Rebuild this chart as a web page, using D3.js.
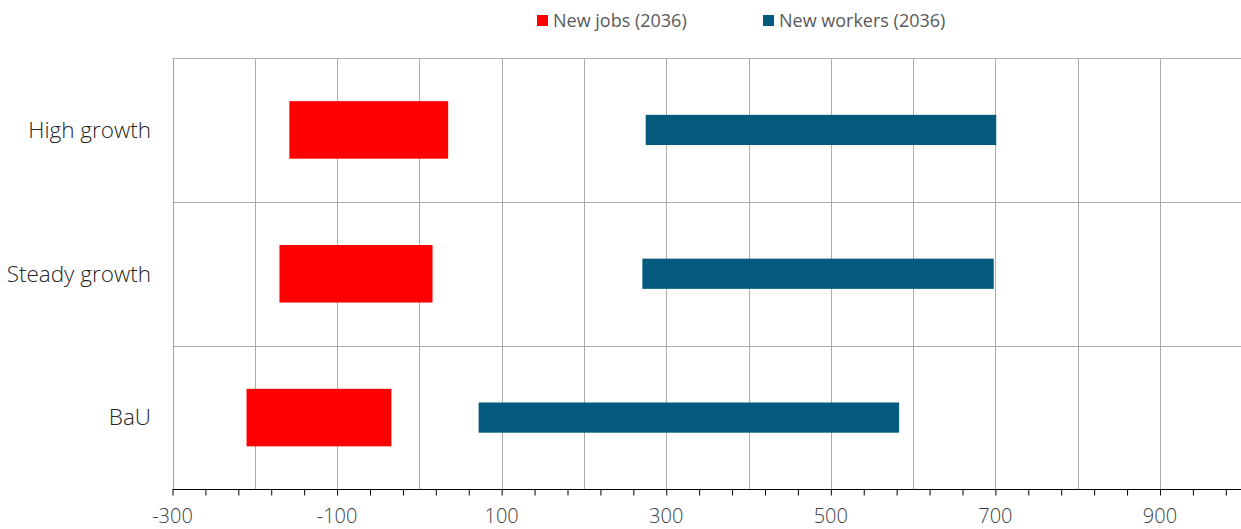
<!DOCTYPE html>
<html>
<head>
<meta charset="utf-8">
<script src="https://cdn.jsdelivr.net/npm/d3@7"></script>
<style>
  html, body { margin: 0; padding: 0; background: #fff; }
  svg { display: block; }
</style>
</head>
<body>
<svg id="chart" width="1241" height="529"></svg>
<script>
const categories = ["High growth", "Steady growth", "BaU"];
const jobsStart = [-158, -170, -210];
const jobsEnd = [35, 16, -34];
const workersStart = [275, 271, 72];
const workersEnd = [701, 698, 583];
const seriesNames = ["New jobs (2036)", "New workers (2036)"];
const tickValues = [-300, -100, 100, 300, 500, 700, 900];

(function () {
const svg = d3.select("#chart");
const W = 1241;
const plotLeft = 172.5, plotTop = 58, plotBottom = 489.5;
const font = "'Open Sans', 'Segoe UI', sans-serif";

const x = d3.scaleLinear().domain([-300, 1000]).range([plotLeft, plotLeft + 1300 * 0.8229]);
const y = d3.scaleBand().domain(categories).range([plotTop, plotBottom]).padding(0);
const bw = y.bandwidth();

// vertical grid lines every 100
const gridVals = d3.range(-200, 1001, 100);
svg.append("g").selectAll("line").data(gridVals).join("line")
  .attr("x1", d => Math.round(x(d)) + 0.5).attr("x2", d => Math.round(x(d)) + 0.5)
  .attr("y1", plotTop).attr("y2", plotBottom)
  .attr("stroke", "#adadad").attr("stroke-width", 1);

// horizontal category separators + top border
const hVals = [plotTop, y(categories[1]), y(categories[2])];
svg.append("g").selectAll("line").data(hVals).join("line")
  .attr("x1", plotLeft).attr("x2", W)
  .attr("y1", d => Math.round(d) + 0.5).attr("y2", d => Math.round(d) + 0.5)
  .attr("stroke", "#adadad").attr("stroke-width", 1);

// left border
svg.append("line")
  .attr("x1", Math.round(plotLeft) + 0.5).attr("x2", Math.round(plotLeft) + 0.5)
  .attr("y1", plotTop).attr("y2", plotBottom)
  .attr("stroke", "#a0a0a0");

// bars
const rows = categories.map((c, i) => ({c, js: jobsStart[i], je: jobsEnd[i], ws: workersStart[i], we: workersEnd[i]}));
const redH = bw * 0.40, blueH = bw * 0.21;
svg.append("g").selectAll("rect").data(rows).join("rect")
  .attr("x", d => x(d.js)).attr("width", d => x(d.je) - x(d.js))
  .attr("y", d => y(d.c) + bw / 2 - redH / 2).attr("height", redH)
  .attr("fill", "#ff0000");
svg.append("g").selectAll("rect").data(rows).join("rect")
  .attr("x", d => x(d.ws)).attr("width", d => x(d.we) - x(d.ws))
  .attr("y", d => y(d.c) + bw / 2 - blueH / 2).attr("height", blueH)
  .attr("fill", "#035a7c");

// x axis
const axis = d3.axisBottom(x)
  .tickValues(d3.range(-300, 1001, 40))
  .tickSize(6).tickSizeOuter(0).tickFormat("");
const gx = svg.append("g").attr("transform", `translate(0,${plotBottom})`).call(axis);
gx.select(".domain").attr("stroke", "#000").attr("d", `M${plotLeft},0H${W}`);
gx.selectAll(".tick line").attr("stroke", "#000");

svg.append("g").selectAll("text").data(tickValues).join("text")
  .attr("x", d => x(d)).attr("y", 523)
  .attr("text-anchor", "middle")
  .attr("font-family", font).attr("font-weight", 300).attr("font-size", 20)
  .attr("fill", "#404040")
  .text(d => d);

// category labels
svg.append("g").selectAll("text").data(categories).join("text")
  .attr("x", 151).attr("y", d => y(d) + bw / 2)
  .attr("dy", "0.35em")
  .attr("text-anchor", "end")
  .attr("font-family", font).attr("font-weight", 300).attr("font-size", 22.5)
  .attr("fill", "#262626")
  .text(d => d);

// legend
const legendColors = ["#ff0000", "#035a7c"];
const legendX = [537, 763];
const lg = svg.append("g").selectAll("g").data(seriesNames).join("g")
  .attr("transform", (d, i) => `translate(${legendX[i]},0)`);
lg.append("rect").attr("x", 0).attr("y", 15).attr("width", 11).attr("height", 11)
  .attr("fill", (d, i) => legendColors[i]);
lg.append("text").attr("x", 16).attr("y", 26.5)
  .attr("font-family", font).attr("font-size", 18).attr("fill", "#595959")
  .text(d => d);
})();
</script>
</body>
</html>
